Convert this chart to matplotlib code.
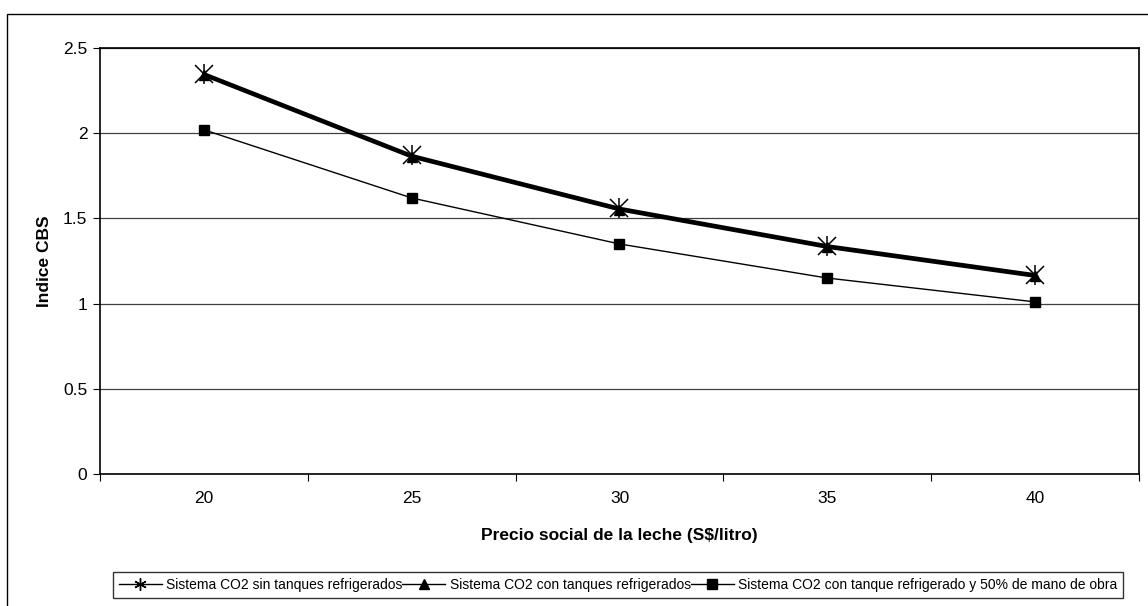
import matplotlib.pyplot as plt
from matplotlib.patches import Rectangle
from matplotlib.lines import Line2D

plt.rcParams['font.family'] = ['Liberation Sans', 'DejaVu Sans']

precios = ['20', '25', '30', '35', '40']
sin_tanques = [2.35, 1.87, 1.56, 1.34, 1.17]
con_tanques = [2.34, 1.86, 1.55, 1.33, 1.16]
tanque_50 = [2.02, 1.62, 1.35, 1.15, 1.01]
nombres = ['Sistema CO2 sin tanques refrigerados',
           'Sistema CO2 con tanques refrigerados',
           'Sistema CO2 con tanque refrigerado y 50% de mano de obra']

W, H = 1148, 606
fig = plt.figure(figsize=(W / 100, H / 100), dpi=100)
ax = fig.add_axes([100 / W, 1 - 474 / H, 1039 / W, 426 / H])

# marco exterior del grafico (cortado a la derecha y abajo)
fig.patches.append(Rectangle((7 / W, -0.1), 1.2, 1.1 - 14 / H, transform=fig.transFigure,
                             fill=False, edgecolor='black', lw=1.0, clip_on=False))

xs = range(len(precios))
ax.plot(xs, con_tanques, color='black', lw=2.2, marker='^', ms=7, zorder=3)
ax.plot(xs, sin_tanques, color='black', lw=2.2, zorder=3)
ax.plot(xs, sin_tanques, ls='none', marker='x', ms=13, mec='black', mew=1.1, zorder=4)
ax.plot(xs, sin_tanques, ls='none', marker='|', ms=14, mec='black', mew=1.1, zorder=4)
ax.plot(xs, tanque_50, color='black', lw=1.0, marker='s', ms=6.5, zorder=3)

ax.set_xlim(-0.5, len(precios) - 0.5)
ax.set_ylim(0, 2.5)
ax.set_yticks([0, 0.5, 1, 1.5, 2, 2.5])
ax.set_yticklabels(['0', '0.5', '1', '1.5', '2', '2.5'])
ax.set_xticks(list(xs))
ax.set_xticklabels(precios)
ax.set_xticks([i - 0.5 for i in range(len(precios) + 1)], minor=True)
ax.tick_params(axis='x', which='major', length=0, pad=12, labelsize=12.5)
ax.tick_params(axis='x', which='minor', length=5, direction='out', width=0.8)
ax.tick_params(axis='y', length=5, direction='out', width=0.8, pad=4, labelsize=12.5)
ax.yaxis.grid(True, color='#404040', lw=0.9)
ax.set_axisbelow(True)
for s in ax.spines.values():
    s.set_linewidth(1.2)

ax.set_xlabel('Precio social de la leche (S$/litro)', fontsize=12.5, fontweight='bold', labelpad=16)
ax.set_ylabel('Indice CBS', fontsize=12.5, fontweight='bold', labelpad=8)

handles = [
    Line2D([], [], color='black', lw=1, marker=(6, 2, 0), ms=9, mew=1),
    Line2D([], [], color='black', lw=1, marker='^', ms=7),
    Line2D([], [], color='black', lw=1, marker='s', ms=6.5),
]
leg = fig.legend(handles, nombres, loc='center', bbox_to_anchor=(618 / W, 1 - 585 / H),
                 ncol=3, fontsize=10, frameon=True, fancybox=False, handlelength=3.1,
                 handletextpad=0.3, columnspacing=0.0, borderpad=0.45, borderaxespad=0)
leg.get_frame().set_edgecolor('black')
leg.get_frame().set_linewidth(1.0)

fig.savefig('out.png', dpi=100)
